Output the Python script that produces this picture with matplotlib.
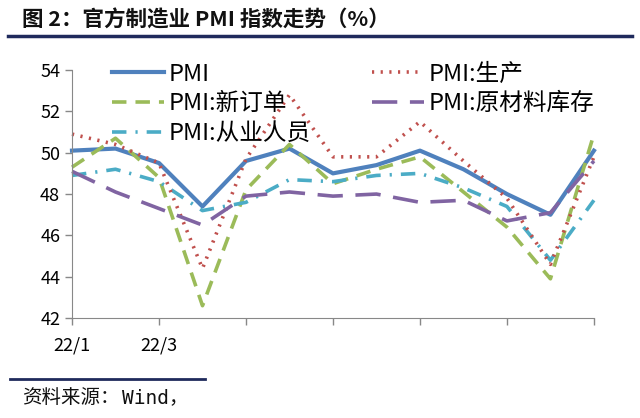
import matplotlib
matplotlib.use("Agg")
import matplotlib.pyplot as plt
from matplotlib.lines import Line2D

plt.rcParams['font.family'] = ['Noto Sans CJK SC', 'DejaVu Sans']

months = ["22/1", "22/2", "22/3", "22/4", "22/5", "22/6", "22/7",
          "22/8", "22/9", "22/10", "22/11", "22/12", "23/1"]
# only these labels are legible in the source picture
shown_labels = ["22/1", "22/3", "", "", "", "", ""]

pmi        = [50.1, 50.2, 49.5, 47.4, 49.6, 50.2, 49.0, 49.4, 50.1, 49.2, 48.0, 47.0, 50.1]
production = [50.9, 50.4, 49.5, 44.4, 49.7, 52.8, 49.8, 49.8, 51.5, 49.6, 47.8, 44.6, 49.8]
new_orders = [49.3, 50.7, 48.8, 42.6, 48.2, 50.4, 48.5, 49.2, 49.8, 48.1, 46.4, 43.9, 50.9]
inventory  = [49.1, 48.1, 47.3, 46.5, 47.9, 48.1, 47.9, 48.0, 47.6, 47.7, 46.7, 47.1, 49.6]
employment = [48.9, 49.2, 48.6, 47.2, 47.6, 48.7, 48.6, 48.9, 49.0, 48.3, 47.4, 44.8, 47.7]

fig = plt.figure(figsize=(6.4, 4.18), dpi=100)
ax = fig.add_axes([0.1125, 0.239, 0.8155, 0.5935])

x = list(range(len(months)))
lw = 2.6
l_pmi, = ax.plot(x, pmi, color="#4F81BD", lw=lw + 0.4, label="PMI")
l_new, = ax.plot(x, new_orders, color="#9BBB59", lw=lw, ls=(0, (4, 2.5)), label="PMI:新订单")
l_emp, = ax.plot(x, employment, color="#4BACC6", lw=lw, ls=(0, (4, 2.5, 0.6, 2.5)), label="PMI:从业人员")
l_prd, = ax.plot(x, production, color="#C0504D", lw=lw, ls=(0, (0.6, 1.8)), label="PMI:生产")
l_inv, = ax.plot(x, inventory, color="#8064A2", lw=lw, ls=(0, (7, 3.5)), label="PMI:原材料库存")

ax.set_xlim(0, 12)
ax.set_ylim(42, 54)
ax.set_yticks(range(42, 55, 2))
ax.set_xticks(range(0, 13, 2))
ax.set_xticklabels(shown_labels)
ax.tick_params(axis="both", labelsize=13, color="#888888", length=5, width=1)
ax.tick_params(axis="x", pad=8)
for s in ["top", "right"]:
    ax.spines[s].set_visible(False)
for s in ["left", "bottom"]:
    ax.spines[s].set_color("#888888")
for ln in ax.get_lines():
    ln.set_clip_on(False)

handles = [l_pmi, l_new, l_emp, l_prd, l_inv]
fig.legend(handles=handles, labels=[h.get_label() for h in handles],
           ncol=2, loc="upper left", bbox_to_anchor=(0.175, 0.85),
           frameon=False, fontsize=17, handlelength=2.2, handletextpad=0.2,
           columnspacing=2.6, labelspacing=0.28, borderpad=0, borderaxespad=0)

# title and rules
fig.text(0.034, 0.952, "图 2：官方制造业 PMI 指数走势（%）", fontsize=15.5,
         fontweight="bold", va="center", ha="left", color="#111111")
fig.add_artist(Line2D([0.012, 0.988], [0.915, 0.915], color="#1F2A5C", lw=2.5))
fig.add_artist(Line2D([0.015, 0.32], [0.093, 0.093], color="#1F2A5C", lw=2))

# source note: CJK part then monospaced "Wind"
src1 = fig.text(0.034, 0.048, "资料来源：", fontsize=14, va="center", ha="left",
                color="#111111")
r = fig.canvas.get_renderer()
x_end = fig.transFigure.inverted().transform(src1.get_window_extent(r))[1][0]
fig.text(x_end + 0.004, 0.048, "Wind，", fontsize=14, va="center", ha="left",
         color="#111111", family=['DejaVu Sans Mono', 'Noto Sans CJK SC'])

fig.savefig("out.png", dpi=100)
